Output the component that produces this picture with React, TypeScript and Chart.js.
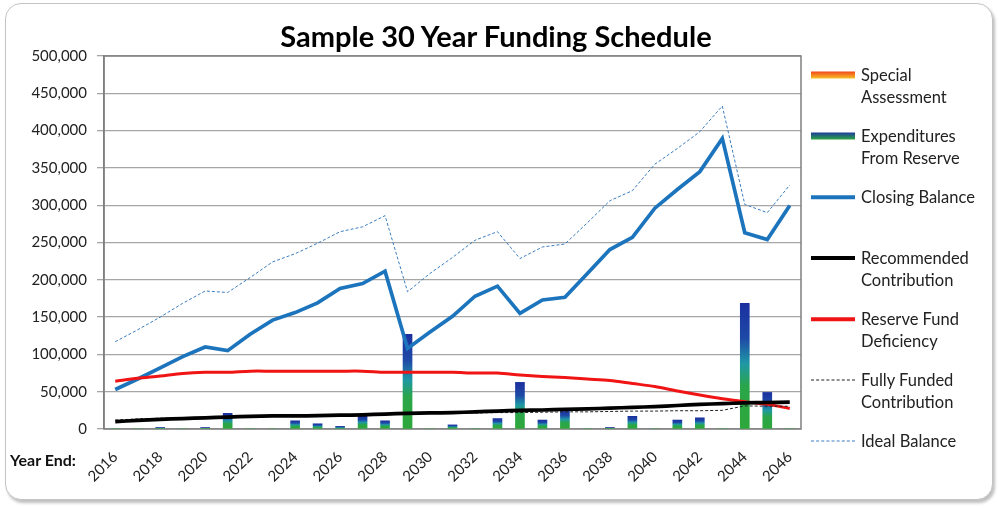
import React, { useEffect, useRef } from 'react';
import { Chart, registerables } from 'chart.js';

Chart.register(...registerables);

const years = [
  '2016', '2017', '2018', '2019', '2020', '2021', '2022', '2023', '2024', '2025',
  '2026', '2027', '2028', '2029', '2030', '2031', '2032', '2033', '2034', '2035',
  '2036', '2037', '2038', '2039', '2040', '2041', '2042', '2043', '2044', '2045', '2046',
];

const specialAssessment = [
  0, 0, 0, 0, 0, 0, 0, 0, 0, 0, 0, 0, 0, 0, 0, 0, 0, 0, 0, 0, 0, 0, 0, 0, 0, 0, 0, 0, 0, 0, 0,
];

const expendituresFromReserve = [
  0, 0, 2000, 0, 2000, 21000, 0, 0, 11000, 7000,
  3500, 17000, 11000, 127000, 0, 5500, 0, 14000, 62500, 12000,
  25000, 0, 2000, 17000, 0, 12000, 15000, 0, 168500, 49000, 0,
];

const closingBalance = [
  53000, 67000, 82000, 97000, 110000, 105000, 127000, 146000, 156000, 169000,
  188500, 195000, 211500, 108000, 130000, 151000, 178000, 191500, 155000, 173000,
  176500, 208500, 240500, 257000, 296000, 321000, 345000, 389500, 263000, 254000, 299500,
];

const recommendedContribution = [
  10000, 11500, 13000, 14000, 15000, 16000, 17000, 17500, 17500, 18000,
  18500, 19000, 20000, 21000, 21500, 22000, 23000, 24000, 25000, 25500,
  26500, 27000, 28000, 29000, 30000, 31500, 33000, 34000, 35000, 35500, 36000,
];

const reserveFundDeficiency = [
  64000, 68000, 71000, 74500, 76000, 76000, 77500, 77500, 77500, 77500,
  77500, 77500, 76000, 76000, 76000, 76000, 75000, 75000, 72500, 70500,
  69000, 67000, 65000, 61000, 57000, 51000, 45500, 40500, 36500, 33000, 27500,
];

const fullyFundedContribution = [
  12000, 13500, 14500, 15000, 15500, 16000, 16500, 17000, 17500, 18000,
  18500, 19500, 20500, 21000, 21000, 21000, 21500, 22000, 22000, 22500,
  23000, 23000, 23500, 24000, 24000, 24500, 24500, 25000, 31000, 30500, 30500,
];

const idealBalance = [
  117000, 133000, 150000, 168500, 185000, 183000, 203000, 224000, 235000, 249000,
  264500, 271000, 286000, 184000, 208500, 230000, 253000, 264500, 228500, 244000,
  248000, 276500, 306000, 319500, 355000, 376000, 398500, 433000, 301000, 290000, 327000,
];

const yMin = 0;
const yMax = 500000;
const yStep = 50000;

const FONT = 'Lato, "Open Sans", sans-serif';

function makeBarGradient(stops: [number, string][], fallback: string) {
  return (c: any) => {
    const chart = c.chart;
    const { ctx, chartArea, scales } = chart;
    if (!chartArea || c.type !== 'data' || !scales || !scales.y) return fallback;
    const v = Number(c.raw) || 0;
    const top = scales.y.getPixelForValue(v);
    const bottom = scales.y.getPixelForValue(0);
    if (!(bottom - top > 0.5)) return fallback;
    const g = ctx.createLinearGradient(0, top, 0, bottom);
    stops.forEach(([o, col]) => g.addColorStop(o, col));
    return g;
  };
}

const plotBorder = {
  id: 'plotBorder',
  beforeDatasetsDraw(chart: any) {
    const { ctx, chartArea } = chart;
    ctx.save();
    ctx.strokeStyle = '#7f7f7f';
    ctx.lineWidth = 1.5;
    ctx.strokeRect(chartArea.left, chartArea.top, chartArea.right - chartArea.left, chartArea.bottom - chartArea.top);
    ctx.restore();
  },
};

type LegendItem = {
  lines: string[];
  swatch: React.CSSProperties;
};

const legendItems: LegendItem[] = [
  { lines: ['Special', 'Assessment'], swatch: { height: 7, background: 'linear-gradient(#f2461a, #f7c22a)' } },
  { lines: ['Expenditures', 'From Reserve'], swatch: { height: 7, background: 'linear-gradient(#1d3a9f, #2aa640)' } },
  { lines: ['Closing Balance'], swatch: { height: 3.5, background: '#1c74bd' } },
  { lines: ['Recommended', 'Contribution'], swatch: { height: 4, background: '#000' } },
  { lines: ['Reserve Fund', 'Deficiency'], swatch: { height: 3.5, background: '#f01414' } },
  { lines: ['Fully Funded', 'Contribution'], swatch: { height: 0, borderTop: '1px dashed #222' } },
  { lines: ['Ideal Balance'], swatch: { height: 0, borderTop: '1px dashed #3a7dc0' } },
];

export default function App() {
  const canvasRef = useRef<HTMLCanvasElement | null>(null);

  useEffect(() => {
    const canvas = canvasRef.current;
    if (!canvas) return;
    const chart = new Chart(canvas, {
      type: 'bar',
      data: {
        labels: years,
        datasets: [
          {
            type: 'line',
            label: 'Closing Balance',
            data: closingBalance,
            borderColor: '#1c74bd',
            borderWidth: 3.7,
            pointRadius: 0,
            tension: 0,
            order: 3,
          },
          {
            type: 'line',
            label: 'Ideal Balance',
            data: idealBalance,
            borderColor: '#3a7dc0',
            borderWidth: 1,
            borderDash: [3, 2],
            pointRadius: 0,
            tension: 0,
            order: 4,
          },
          {
            type: 'line',
            label: 'Reserve Fund Deficiency',
            data: reserveFundDeficiency,
            borderColor: '#f01414',
            borderWidth: 3,
            pointRadius: 0,
            tension: 0.3,
            order: 2,
          },
          {
            type: 'line',
            label: 'Fully Funded Contribution',
            data: fullyFundedContribution,
            borderColor: '#222',
            borderWidth: 1,
            borderDash: [3, 2],
            pointRadius: 0,
            tension: 0,
            order: 1,
          },
          {
            type: 'line',
            label: 'Recommended Contribution',
            data: recommendedContribution,
            borderColor: '#000',
            borderWidth: 3.7,
            pointRadius: 0,
            tension: 0.3,
            order: 0,
          },
          {
            type: 'bar',
            label: 'Expenditures From Reserve',
            data: expendituresFromReserve,
            backgroundColor: makeBarGradient(
              [[0, '#1b30a0'], [0.28, '#1e4aa6'], [0.48, '#1f98a6'], [0.66, '#2aa54a'], [1, '#2ea83a']],
              '#2ea83a'
            ),
            borderWidth: 0,
            barThickness: 9,
            grouped: false,
            order: 10,
          },
          {
            type: 'bar',
            label: 'Special Assessment',
            data: specialAssessment,
            backgroundColor: makeBarGradient([[0, '#f2461a'], [1, '#f7c22a']], 'rgba(0,0,0,0)'),
            borderWidth: 0,
            barThickness: 9,
            grouped: false,
            order: 11,
          },
        ],
      },
      options: {
        responsive: false,
        animation: false,
        devicePixelRatio: 1,
        layout: { padding: { left: 0, top: 56, right: 199, bottom: 4 } },
        plugins: {
          legend: { display: false },
          title: { display: false },
          tooltip: { enabled: false },
        },
        scales: {
          x: {
            type: 'category',
            offset: true,
            grid: { display: false, drawTicks: false },
            border: { display: false },
            ticks: {
              autoSkip: false,
              maxRotation: 45,
              minRotation: 45,
              padding: 19,
              color: '#222',
              font: { family: FONT, size: 15 },
              callback: (_v: any, i: number) => (i % 2 === 0 ? years[i] : ''),
            },
            afterFit: (s: any) => {
              s.height = 75;
            },
          },
          y: {
            min: yMin,
            max: yMax,
            ticks: {
              stepSize: yStep,
              padding: 10,
              color: '#222',
              font: { family: FONT, size: 15 },
              callback: (v: any) => Number(v).toLocaleString('en-US'),
            },
            grid: { color: '#a6a6a6', lineWidth: 1.3, tickLength: 7, drawTicks: true },
            border: { display: true, color: '#7f7f7f', width: 1.5 },
            afterFit: (s: any) => {
              s.width = 104;
            },
          },
        },
      },
      plugins: [plotBorder],
    });
    return () => chart.destroy();
  }, []);

  return (
    <div style={{ position: 'fixed', left: 0, top: 0, width: 1000, height: 508, background: '#fff', overflow: 'hidden' }}>
      <div
        style={{
          position: 'absolute',
          left: 5,
          top: 3,
          width: 986,
          height: 495,
          border: '1.5px solid #c4c4c4',
          borderRadius: 16,
          boxShadow: '2px 3px 3px rgba(0,0,0,0.25)',
          background: '#fff',
        }}
      />
      <canvas ref={canvasRef} width={1000} height={508} style={{ position: 'absolute', left: 0, top: 0, width: 1000, height: 508 }} />
      <div
        style={{
          position: 'absolute',
          left: 196,
          width: 600,
          top: 17,
          textAlign: 'center',
          fontFamily: FONT,
          fontWeight: 700,
          fontSize: 29,
          lineHeight: '38px',
          color: '#000',
        }}
      >
        Sample 30 Year Funding Schedule
      </div>
      <div
        style={{
          position: 'absolute',
          left: 10,
          top: 450,
          fontFamily: FONT,
          fontWeight: 700,
          fontSize: 16,
          lineHeight: '20px',
          color: '#111',
        }}
      >
        Year End:
      </div>
      {legendItems.map((it, i) => (
        <div key={i} style={{ position: 'absolute', left: 811, top: 64 + i * 61, width: 185 }}>
          <div
            style={{
              position: 'absolute',
              left: 0,
              top: 11,
              width: 44,
              transform: 'translateY(-50%)',
              ...it.swatch,
            }}
          />
          <div
            style={{
              position: 'absolute',
              left: 50,
              top: 0,
              fontFamily: FONT,
              fontSize: 16.5,
              lineHeight: '22px',
              color: '#222',
              whiteSpace: 'nowrap',
            }}
          >
            {it.lines.map((l, j) => (
              <div key={j}>{l}</div>
            ))}
          </div>
        </div>
      ))}
    </div>
  );
}
